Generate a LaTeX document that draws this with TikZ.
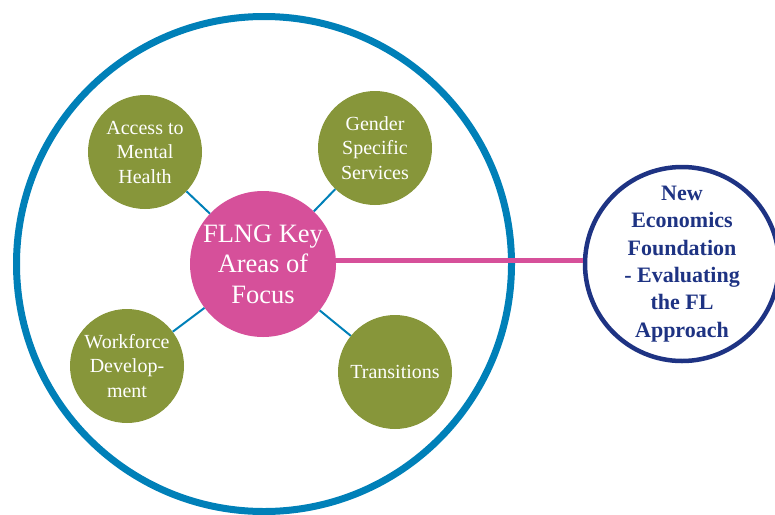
\documentclass[tikz,border=0pt]{standalone}
\usepackage{fontspec}
\setmainfont{Liberation Serif}
\usepackage{tikz}
\usetikzlibrary{positioning}
\definecolor{ringblue}{HTML}{0080B8}
\definecolor{focuspink}{HTML}{D6509A}
\definecolor{areagreen}{HTML}{87963A}
\definecolor{nefnavy}{HTML}{1E3383}

\begin{document}
\begin{tikzpicture}[x=1pt,y=-1pt,
  area/.style={circle,fill=areagreen,text=white,minimum size=114pt,inner sep=0pt,align=center,font=\fontsize{20}{24.5}\selectfont},
  focus/.style={circle,fill=focuspink,text=white,minimum size=146pt,inner sep=0pt,align=center,font=\fontsize{26.5}{30.5}\selectfont},
  nef/.style={circle,draw=nefnavy,line width=4.5pt,fill=white,text=nefnavy,minimum size=194pt,inner sep=0pt,align=center,font=\bfseries\fontsize{22}{27.4}\selectfont},
  spoke/.style={ringblue,line width=2pt}]
  \useasboundingbox (0,0) rectangle (775,514);
  % outer ring
  \draw[ringblue,line width=7pt] (264,264) circle (247.5);
  % key areas
  \node[focus] (FLNG) at (263,264) {FLNG Key\\Areas of\\Focus};
  \node[area] (Mental) at (145,152) {Access to\\Mental\\Health};
  \node[area] (Gender) at (375,148) {Gender\\Specific\\Services};
  \node[area] (Workforce) at (127,366) {Workforce\\Develop-\\ment};
  \node[area] (Transitions) at (395,372) {Transitions};
  \draw[spoke] (FLNG)--(Mental) (FLNG)--(Gender) (FLNG)--(Workforce) (FLNG)--(Transitions);
  % evaluation
  \node[nef] (NEF) at (682,264) {New\\Economics\\Foundation\\- Evaluating\\the FL\\Approach};
  \draw[focuspink,line width=5.5pt] (FLNG.east |- 0,260.5)--(NEF.west |- 0,260.5);
\end{tikzpicture}
\end{document}
